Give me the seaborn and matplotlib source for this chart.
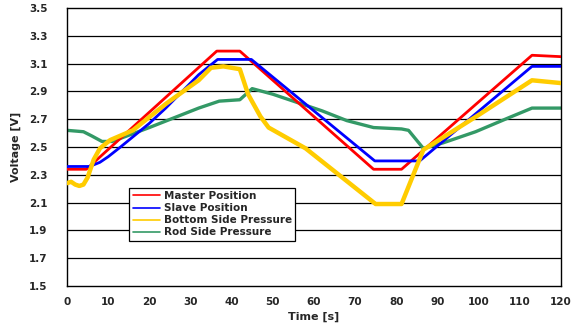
import matplotlib
matplotlib.use("Agg")
import matplotlib.pyplot as plt
import seaborn as sns
from matplotlib.lines import Line2D

# values
master_t = [0, 4.7, 36.4, 42, 74.5, 81.3, 113, 120]
master_v = [2.34, 2.34, 3.19, 3.19, 2.34, 2.34, 3.16, 3.15]

slave_t = [0, 5.5, 8, 10, 13, 20, 24, 32, 36.6, 44.8, 74.8, 85.7, 113, 120]
slave_v = [2.36, 2.36, 2.39, 2.43, 2.50, 2.67, 2.78, 3.02, 3.13, 3.13, 2.40, 2.40, 3.08, 3.08]

bottom_t = [0, 1, 2, 3, 4, 5, 6.5, 8, 10.5, 16, 24, 32, 35, 38, 42, 44, 47, 49, 58, 75,
            81.3, 86.6, 100, 113, 120]
bottom_v = [2.24, 2.25, 2.23, 2.22, 2.23, 2.28, 2.41, 2.49, 2.55, 2.62, 2.81, 2.98, 3.07,
            3.08, 3.06, 2.88, 2.72, 2.64, 2.49, 2.09, 2.09, 2.48, 2.73, 2.98, 2.96]

rod_t = [0, 4, 6, 8.5, 11, 20, 32, 37, 42, 45, 50, 56, 62, 68, 74.5, 81.3, 83, 86.6,
         91.4, 99.3, 107.3, 113, 120]
rod_v = [2.62, 2.61, 2.58, 2.54, 2.54, 2.64, 2.78, 2.83, 2.84, 2.92, 2.88, 2.82, 2.76,
         2.69, 2.64, 2.63, 2.62, 2.49, 2.53, 2.61, 2.71, 2.78, 2.78]

labels = ["Master Position", "Slave Position", "Bottom Side Pressure", "Rod Side Pressure"]
colors = ["#FF0000", "#0000FF", "#FFCC00", "#339966"]

x_ticks = list(range(0, 121, 10))
y_ticks = [1.5, 1.7, 1.9, 2.1, 2.3, 2.5, 2.7, 2.9, 3.1, 3.3, 3.5]

sns.set_style("white")
plt.rcParams["font.family"] = ["DejaVu Sans"]

fig = plt.figure(figsize=(5.74, 3.33), dpi=100)
ax = fig.add_axes([0.1167, 0.141, 0.8603, 0.835])

# grid lines
for y in y_ticks[1:-1]:
    ax.axhline(y, color="black", lw=0.9, zorder=1)

sns.lineplot(x=rod_t, y=rod_v, ax=ax, color=colors[3], lw=2.4, sort=False,
             estimator=None, zorder=2)
sns.lineplot(x=master_t, y=master_v, ax=ax, color=colors[0], lw=2.0, sort=False,
             estimator=None, zorder=3)
sns.lineplot(x=slave_t, y=slave_v, ax=ax, color=colors[1], lw=2.0, sort=False,
             estimator=None, zorder=3)
sns.lineplot(x=bottom_t, y=bottom_v, ax=ax, color=colors[2], lw=3.2, sort=False,
             estimator=None, zorder=4)

ax.set_xlim(0, 120)
ax.set_ylim(1.5, 3.5)
ax.set_xticks(x_ticks)
ax.set_yticks(y_ticks)
ax.set_yticklabels([f"{y:.1f}" for y in y_ticks])
ax.tick_params(axis="x", direction="in", length=3, width=0.8, labelsize=7.5, pad=8)
ax.tick_params(axis="y", length=0, labelsize=7.5, pad=14)
for lab in ax.get_xticklabels() + ax.get_yticklabels():
    lab.set_fontweight("bold")

ax.set_xlabel("Time [s]", fontsize=8, fontweight="bold", labelpad=3)
ax.set_ylabel("Voltage [V]", fontsize=8, fontweight="bold", labelpad=6)

for sp in ax.spines.values():
    sp.set_color("black")
    sp.set_linewidth(1.0)

handles = [Line2D([], [], color=c, lw=1.2) for c in colors]
leg = ax.legend(handles, labels, loc="lower left", bbox_to_anchor=(0.116, 0.145),
                fancybox=False, framealpha=1, edgecolor="black", borderpad=0.3,
                labelspacing=0.2, handlelength=2.6, handletextpad=0.4,
                prop={"size": 7.5, "weight": "bold"})
leg.get_frame().set_linewidth(0.9)
leg.set_zorder(6)

fig.savefig("out.png", dpi=100)
